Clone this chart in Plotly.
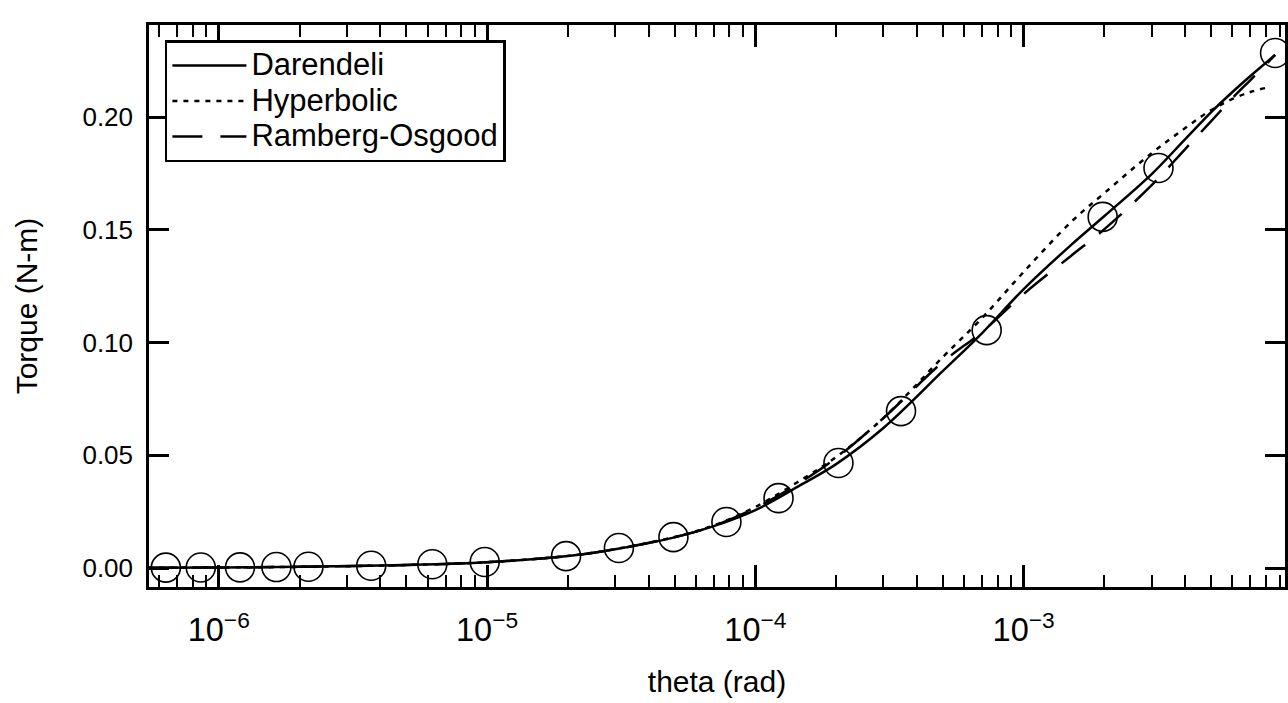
import plotly.graph_objects as go

# Measured torque–twist points
theta_meas = [6.35e-7, 8.57e-7, 1.2e-6, 1.64e-6, 2.16e-6, 3.7e-6, 6.25e-6, 9.8e-6,
              1.97e-5, 3.1e-5, 4.95e-5, 7.8e-5, 1.22e-4, 2.04e-4, 3.49e-4, 7.28e-4,
              1.97e-3, 3.18e-3, 8.65e-3]
torque_meas = [0.00017, 0.00023, 0.00032, 0.00044, 0.00058, 0.0010, 0.0017, 0.0027,
               0.0053, 0.0089, 0.0137, 0.0204, 0.0310, 0.0466, 0.0696, 0.1055,
               0.1557, 0.1774, 0.2284]

# Model curves
theta_fit = [5.44e-7, 1e-6, 2e-6, 5e-6, 1e-5, 2e-5, 3e-5, 5e-5, 7e-5, 1e-4, 1.5e-4,
             2e-4, 3e-4, 5e-4, 7e-4, 1e-3, 1.5e-3, 2e-3, 3e-3, 4e-3, 5e-3, 6e-3,
             7e-3, 8.65e-3]
torque_darendeli = [0.00015, 0.00027, 0.00054, 0.00135, 0.0026, 0.0053, 0.0083, 0.0136,
                    0.0186, 0.0257, 0.0373, 0.0461, 0.0621, 0.0874, 0.1042, 0.1237,
                    0.1432, 0.1561, 0.1747, 0.1902, 0.2022, 0.2111, 0.2182, 0.2275]
theta_hyp = theta_fit[:-1] + [8e-3]
torque_hyperbolic = [0.00015, 0.00027, 0.00054, 0.00135, 0.0026, 0.0054, 0.0084, 0.0138,
                     0.0189, 0.0271, 0.0395, 0.0492, 0.0665, 0.0936, 0.1109, 0.1313,
                     0.1534, 0.1663, 0.1840, 0.1951, 0.2031, 0.2080, 0.2111, 0.2129]
torque_ramberg = [0.00015, 0.00027, 0.00054, 0.00135, 0.0026, 0.0053, 0.0083, 0.0137,
                  0.0187, 0.0266, 0.0386, 0.0488, 0.0665, 0.0914, 0.1047, 0.1215,
                  0.1384, 0.1503, 0.1698, 0.1858, 0.1982, 0.2084, 0.2164, 0.2275]

y_ticks = [0.00, 0.05, 0.10, 0.15, 0.20]

FONT = "Liberation Sans, Arial, sans-serif"


def legend_label(text):
    # slightly larger glyphs than the legend row pitch
    return f'<span style="font-size:31px">{text}</span>'


fig = go.Figure()
fig.add_trace(go.Scatter(x=theta_fit, y=torque_darendeli, mode="lines",
                         name=legend_label("Darendeli"),
                         line=dict(color="black", width=2.5, shape="spline")))
fig.add_trace(go.Scatter(x=theta_hyp, y=torque_hyperbolic, mode="lines",
                         name=legend_label("Hyperbolic"),
                         line=dict(color="black", width=2.5, dash="5px,6px", shape="spline")))
fig.add_trace(go.Scatter(x=theta_fit, y=torque_ramberg, mode="lines",
                         name=legend_label("Ramberg-Osgood"),
                         line=dict(color="black", width=2.5, dash="30px,18px", shape="spline")))
fig.add_trace(go.Scatter(x=theta_meas, y=torque_meas, mode="markers", showlegend=False,
                         marker=dict(symbol="circle-open", size=29,
                                     color="black", line=dict(width=1.6, color="black"))))

fig.update_layout(
    width=1288, height=703,
    margin=dict(l=149, r=0, t=25, b=116),
    paper_bgcolor="white", plot_bgcolor="white",
    font=dict(family=FONT, size=26, color="black"),
    legend=dict(x=0.014, y=0.973, xanchor="left", yanchor="top",
                bgcolor="white", bordercolor="black", borderwidth=2.5,
                font=dict(size=25), itemwidth=74, tracegroupgap=0),
)
fig.update_xaxes(
    type="log", range=[-6.260, -2.026], dtick=1, exponentformat="power",
    showgrid=False, zeroline=False,
    showline=True, linecolor="black", linewidth=2.5, mirror="ticks",
    ticks="inside", ticklen=22, tickwidth=2.5, tickcolor="black",
    minor=dict(dtick="D1", ticks="inside", ticklen=12, tickwidth=2, tickcolor="black", showgrid=False),
    ticklabelstandoff=14,
    title=dict(text="theta (rad)", font=dict(size=30), standoff=24),
)
fig.update_yaxes(
    range=[-0.0084, 0.2408], tickvals=y_ticks, tickformat=".2f",
    showgrid=False, zeroline=False,
    showline=True, linecolor="black", linewidth=2.5, mirror="ticks",
    ticks="inside", ticklen=20, tickwidth=2.5, tickcolor="black",
    ticklabelstandoff=8,
    title=dict(text="Torque (N-m)", font=dict(size=30), standoff=36),
)

fig.write_html("out.html")
